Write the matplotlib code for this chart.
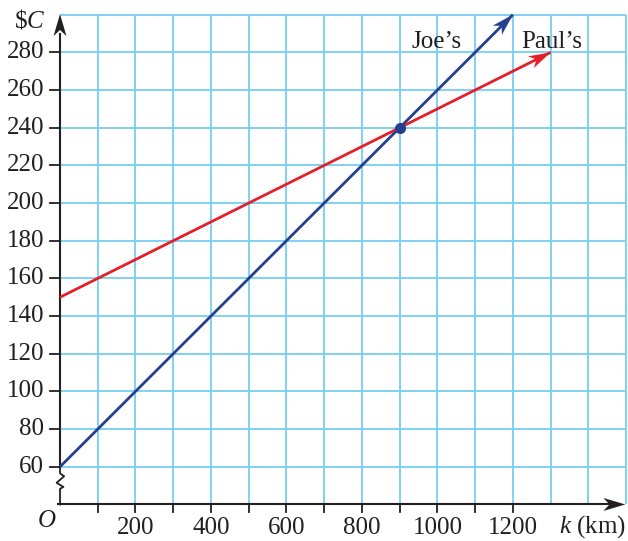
import numpy as np
import matplotlib.pyplot as plt
from matplotlib.patches import Polygon
from matplotlib.transforms import IdentityTransform

plt.rcParams['font.family'] = 'Liberation Serif'
plt.rcParams['mathtext.fontset'] = 'custom'
plt.rcParams['mathtext.rm'] = 'Liberation Serif'
plt.rcParams['mathtext.it'] = 'Liberation Serif:italic'

# --- data ---
distance_km = [0, 1200]          # Joe's line runs to the arrow tip
joe_cost = [60, 300]
paul_km = [0, 1300]
paul_cost = [150, 280]
meet_km, meet_cost = 900, 240

x_ticks = list(range(100, 1300, 100))
x_labels = [200, 400, 600, 800, 1000, 1200]
y_labels = list(range(60, 300, 20))
grid_x = list(range(100, 1600, 100))
grid_y = list(range(60, 320, 20))

GRID = '#74cef2'
BLUE = '#25408f'
RED = '#e3202a'
INK = '#231f20'

fig = plt.figure(figsize=(6.28, 5.41), dpi=100)
ax = fig.add_axes([0, 0, 1, 1])
ax.set_xlim(-159, 1505)
ax.set_ylim(20.6, 307.8)
ax.axis('off')

# grid (axis baseline sits at C = 40 after the break)
ax.vlines(grid_x, 40, 300, color=GRID, lw=1.3, zorder=1)
ax.hlines(grid_y, 0, 1500, color=GRID, lw=1.3, zorder=1)


def stealth(tip, tail, length=22, width=13, color=INK):
    """Notched arrow head drawn in pixel space at the tip of a line."""
    p1 = ax.transData.transform(tip)
    p0 = ax.transData.transform(tail)
    d = (p1 - p0) / np.hypot(*(p1 - p0))
    n = np.array([-d[1], d[0]])
    base = p1 - d * length
    pts = [p1, base + n * width / 2, p1 - d * length * 0.72, base - n * width / 2]
    ax.add_patch(Polygon(pts, closed=True, color=color, transform=IdentityTransform(),
                         zorder=6, lw=0))


# axes
ax.plot([0, 0], [60, 290], color=INK, lw=1.5, zorder=4)
zig_k = [0, 0, 11, -9, 9, 0, 0]
zig_c = [60, 56.5, 55, 51.5, 49.3, 48.3, 40]
ax.plot(zig_k, zig_c, color=INK, lw=1.3, zorder=4)
ax.plot([-5, 1480], [40, 40], color=INK, lw=1.5, zorder=4)
stealth((0, 300.3), (0, 200))
stealth((1498, 40), (1000, 40))

# ticks
for c in y_labels:
    ax.plot([-27, 0], [c, c], color=INK, lw=1.3, zorder=4)
    ax.text(-42, c, str(c), ha='right', va='center', fontsize=18, color=INK)
for k in x_ticks:
    ax.plot([k, k], [40, 36], color=INK, lw=1.3, zorder=4)
for k in x_labels:
    ax.text(k, 27.4, str(k), ha='center', va='center', fontsize=18, color=INK)

# lines
ax.plot(distance_km, joe_cost, color=BLUE, lw=2, zorder=5, solid_capstyle='butt')
ax.plot(paul_km, paul_cost, color=RED, lw=2, zorder=5, solid_capstyle='butt')
stealth((distance_km[1], joe_cost[1]), (distance_km[0], joe_cost[0]), color=BLUE)
stealth((paul_km[1], paul_cost[1]), (paul_km[0], paul_cost[0]), color=RED)
ax.plot([meet_km], [meet_cost], 'o', color=BLUE, ms=7, zorder=7)

# labels
ax.text(997, 285.5, 'Joe\u2019s', ha='center', va='center', fontsize=18, color=INK)
ax.text(1303, 285.5, 'Paul\u2019s', ha='center', va='center', fontsize=18, color=INK)
ax.text(-40, 297, r'\$$\mathit{C}$', ha='right', va='center', fontsize=18, color=INK)
ax.text(-34, 31.2, r'$\mathit{O}$', ha='center', va='center', fontsize=18, color=INK)
ax.text(1499, 28, r'$\mathit{k}$ (km)', ha='right', va='center', fontsize=18, color=INK)

fig.savefig('out.png', dpi=100)
